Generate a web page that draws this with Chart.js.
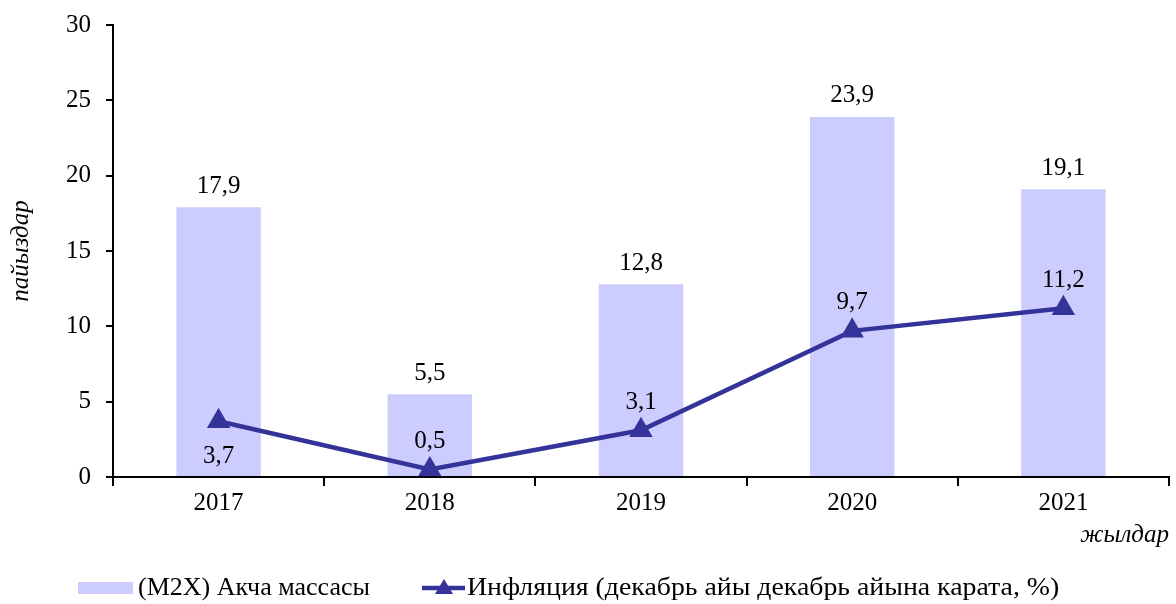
<!DOCTYPE html>
<html>
<head>
<meta charset="utf-8">
<script src="https://cdn.jsdelivr.net/npm/chart.js@4.4.1/dist/chart.umd.min.js"></script>
<style>
  html, body { margin: 0; padding: 0; background: #fff; }
  #wrap { width: 1176px; height: 604px; }
</style>
</head>
<body>
<div id="wrap"><canvas id="myChart"></canvas></div>
<script>
// years and series
const years = ["2017", "2018", "2019", "2020", "2021"];
const moneySupply = [17.9, 5.5, 12.8, 23.9, 19.1];
const inflation = [3.7, 0.5, 3.1, 9.7, 11.2];
// where the inflation label sits relative to its point
const inflationLabelPos = ["below", "above", "above", "above", "above"];
const yTicks = [0, 5, 10, 15, 20, 25, 30];

const FONT = "'Liberation Serif', 'Times New Roman', serif";
const barColor = "#CCCCFF";
const lineColor = "#333399";

const fmt = v => v.toFixed(1).replace(".", ",");

// value labels over the bars and the line points
const valueLabels = {
  id: "valueLabels",
  afterDatasetsDraw(chart) {
    const c = chart.ctx;
    c.save();
    c.font = "25px " + FONT;
    c.fillStyle = "#000";
    c.textAlign = "center";
    c.textBaseline = "middle";
    chart.getDatasetMeta(0).data.forEach((bar, i) => {
      c.fillText(fmt(moneySupply[i]), bar.x, bar.y - 21);
    });
    chart.getDatasetMeta(1).data.forEach((pt, i) => {
      const dy = inflationLabelPos[i] === "below" ? 35 : -28;
      c.fillText(fmt(inflation[i]), pt.x, pt.y + dy);
    });
    c.restore();
  }
};

// legend along the bottom
const bottomLegend = {
  id: "bottomLegend",
  afterDraw(chart) {
    const c = chart.ctx;
    const y = 588;
    c.save();
    c.font = "26px " + FONT;
    c.textBaseline = "middle";
    c.textAlign = "left";

    c.fillStyle = barColor;
    c.fillRect(78, y - 6, 55, 12);
    c.fillStyle = "#000";
    c.fillText(chart.data.datasets[0].label, 138, y);

    c.strokeStyle = lineColor;
    c.lineWidth = 4.5;
    c.beginPath();
    c.moveTo(422, y);
    c.lineTo(465, y);
    c.stroke();
    c.fillStyle = lineColor;
    c.beginPath();
    c.moveTo(444, y - 9);
    c.lineTo(453, y + 6);
    c.lineTo(435, y + 6);
    c.closePath();
    c.fill();

    // the long cyrillic label runs a little wider
    c.fillStyle = "#000";
    c.translate(467, y);
    c.scale(1.07, 1);
    c.fillText(chart.data.datasets[1].label, 0, 0);
    c.restore();
  }
};

// drop the extra room chart.js reserves around the tick labels
const noEdgePadding = scale => {
  scale.paddingTop = 0;
  scale.paddingRight = 0;
  scale.paddingBottom = 0;
};

const ctx = document.getElementById("myChart");
new Chart(ctx, {
  data: {
    labels: years,
    datasets: [
      {
        type: "bar",
        label: "(M2X) Акча массасы",
        data: moneySupply,
        backgroundColor: barColor,
        barPercentage: 0.4,
        categoryPercentage: 1,
        order: 1,
      },
      {
        type: "line",
        label: "Инфляция (декабрь айы декабрь айына карата, %)",
        data: inflation,
        borderColor: lineColor,
        backgroundColor: lineColor,
        borderWidth: 4.5,
        pointStyle: "triangle",
        pointRadius: 9,
        pointHoverRadius: 9,
        pointBackgroundColor: lineColor,
        pointBorderColor: lineColor,
        tension: 0,
        order: 0,
      },
    ],
  },
  options: {
    responsive: true,
    maintainAspectRatio: false,
    animation: false,
    layout: { autoPadding: false, padding: { top: 25, right: 7, bottom: 54, left: 6 } },
    plugins: {
      legend: { display: false },
      tooltip: { enabled: false },
    },
    scales: {
      x: {
        offset: true,
        afterFit: noEdgePadding,
        border: { color: "#000", width: 2 },
        grid: {
          offset: true,
          drawOnChartArea: false,
          drawTicks: true,
          tickLength: 9,
          color: "#000",
          lineWidth: 2,
        },
        ticks: {
          color: "#000",
          font: { family: FONT, size: 25 },
          padding: 2,
        },
        title: {
          display: true,
          text: "жылдар",
          align: "end",
          color: "#000",
          font: { family: FONT, size: 25, style: "italic" },
          padding: { top: 0, bottom: 0 },
        },
      },
      y: {
        min: 0,
        max: 30,
        afterBuildTicks: axis => {
          axis.ticks = yTicks.map(v => ({ value: v }));
        },
        afterFit: noEdgePadding,
        border: { color: "#000", width: 2 },
        grid: {
          drawOnChartArea: false,
          drawTicks: true,
          tickLength: 7,
          color: "#000",
          lineWidth: 2,
        },
        ticks: {
          color: "#000",
          font: { family: FONT, size: 25 },
          padding: 15,
        },
        title: {
          display: true,
          text: "пайыздар",
          color: "#000",
          font: { family: FONT, size: 25, style: "italic" },
          padding: { top: 0, bottom: 15 },
        },
      },
    },
  },
  plugins: [valueLabels, bottomLegend],
});
</script>
</body>
</html>
